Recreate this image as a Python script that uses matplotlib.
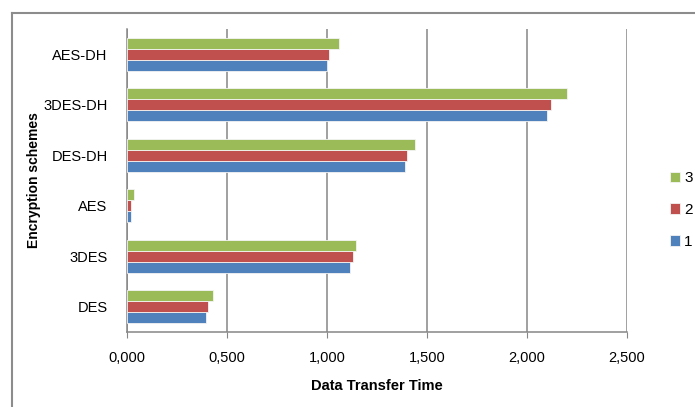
import numpy as np
import matplotlib.pyplot as plt
from matplotlib.lines import Line2D

# schemes listed bottom to top
schemes = ['DES', '3DES', 'AES', 'DES-DH', '3DES-DH', 'AES-DH']
run1 = [0.397, 1.117, 0.022, 1.39, 2.10, 1.00]
run2 = [0.405, 1.13, 0.020, 1.40, 2.122, 1.008]
run3 = [0.432, 1.143, 0.034, 1.44, 2.20, 1.06]
series_names = ['1', '2', '3']
xticks = [0.0, 0.5, 1.0, 1.5, 2.0, 2.5]

colors = ['#4F81BD', '#C0504D', '#9BBB59']
plt.rcParams['font.family'] = ['Liberation Sans', 'DejaVu Sans']

fig = plt.figure(figsize=(6.95, 4.07), dpi=100)
ax = fig.add_axes([0.1827, 0.1843, 0.7194, 0.7445])

y = np.arange(len(schemes))
h = 0.215
for i, (vals, c, name) in enumerate(zip([run1, run2, run3], colors, series_names)):
    ax.barh(y + (i - 1) * h, vals, height=h, color=c, edgecolor='#f4f4f4',
            linewidth=0.6, label=name, zorder=3)

ax.set_xlim(0, 2.5)
ax.set_ylim(-0.5, len(schemes) - 0.5)
ax.set_xticks(xticks)
ax.xaxis.set_major_formatter(plt.FuncFormatter(lambda v, p: ('%.3f' % v).replace('.', ',')))
ax.set_yticks(y)
ax.set_yticklabels(schemes)
ax.tick_params(axis='y', length=0, pad=14, labelsize=10.5)
ax.tick_params(axis='x', length=4, color='#868686', pad=10, labelsize=10.5)
ax.grid(axis='x', color='#868686', linewidth=1.1, zorder=0)

for s in ['top', 'right']:
    ax.spines[s].set_visible(False)
for s in ['left', 'bottom']:
    ax.spines[s].set_color('#868686')
    ax.spines[s].set_linewidth(1.1)

ax.set_xlabel('Data Transfer Time', fontsize=10.5, fontweight='bold')
ax.xaxis.set_label_coords(0.5, -0.155)
ax.set_ylabel('Encryption schemes', fontsize=10, fontweight='bold')
ax.yaxis.set_label_coords(-0.172, 0.5)

handles, labels = ax.get_legend_handles_labels()
fig.legend(handles[::-1], labels[::-1], loc='center left',
           bbox_to_anchor=(662 / 695, 1 - 210 / 407), borderpad=0,
           frameon=False, handlelength=0.7, handleheight=0.7, handletextpad=0.25,
           labelspacing=1.15, fontsize=11)

# outer chart frame
fig.add_artist(Line2D([12 / 695, 12 / 695], [0, 1 - 13 / 407], color='#8c8c8c', lw=1.5))
fig.add_artist(Line2D([12 / 695, 1], [1 - 13 / 407, 1 - 13 / 407], color='#8c8c8c', lw=1.5))

fig.savefig('out.png', dpi=100)
